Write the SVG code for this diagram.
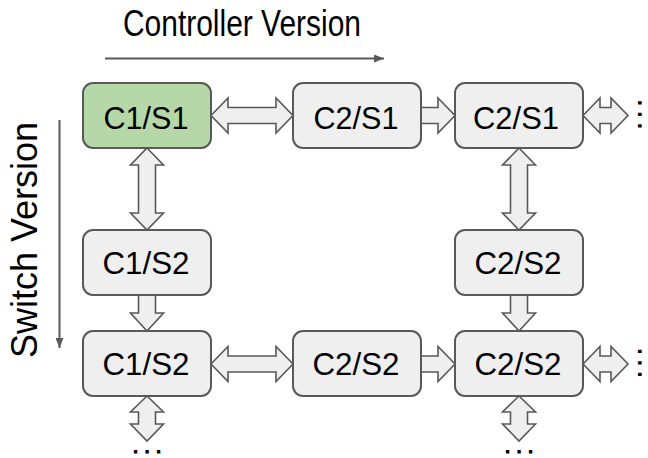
<svg xmlns="http://www.w3.org/2000/svg" width="648" height="458" viewBox="0 0 648 458">
  <style>
    .box { fill: #efefef; stroke: #595959; stroke-width: 2; }
    .box.start { fill: #b6d7a8; }
    .lbl { font-family: "Liberation Sans", Arial, sans-serif; font-size: 32px; fill: #000; text-anchor: middle; }
    .axis-lbl { font-family: "Liberation Sans", Arial, sans-serif; font-size: 36px; fill: #000; text-anchor: middle; }
    .dots { font-family: "Liberation Sans", Arial, sans-serif; font-size: 22px; fill: #000; stroke: #000; stroke-width: 1.2; letter-spacing: 5.4px; }
    .arr { fill: #efefef; stroke: #595959; stroke-width: 1.6; stroke-linejoin: miter; }
    .axis { stroke: #595959; stroke-width: 2; fill: none; }
  </style>
  <defs>
    <marker id="axis-head" viewBox="0 0 10 8" refX="10" refY="4" markerWidth="10" markerHeight="8" markerUnits="userSpaceOnUse" orient="auto">
      <path d="M0,0 L10,4 L0,8 Z" fill="#595959"/>
    </marker>
  </defs>
  <rect width="648" height="458" fill="#ffffff"/>

  <!-- axis labels -->
  <g id="axis-controller">
    <text class="axis-lbl" x="242" y="36" textLength="238" lengthAdjust="spacingAndGlyphs">Controller Version</text>
    <line class="axis" x1="105" y1="58.5" x2="384" y2="58.5" marker-end="url(#axis-head)"/>
  </g>
  <g id="axis-switch">
    <text class="axis-lbl" transform="translate(37,240) rotate(-90)" x="0" y="0" textLength="236" lengthAdjust="spacingAndGlyphs">Switch Version</text>
    <line class="axis" x1="59.5" y1="120" x2="59.5" y2="348" marker-end="url(#axis-head)"/>
  </g>

  <!-- connectors -->
  <g id="connectors">
    <!-- row 1 horizontal -->
    <polygon class="arr" points="211,115.5 228,98 228,107.5 276,107.5 276,98 293,115.5 276,133 276,123.5 228,123.5 228,133"/>
    <polygon class="arr" points="421,107.5 438,107.5 438,98 455,115.5 438,133 438,123.5 421,123.5"/>
    <polygon class="arr" points="583,115.5 600,98 600,107.5 611,107.5 611,98 628,115.5 611,133 611,123.5 600,123.5 600,133"/>
    <!-- row 3 horizontal -->
    <polygon class="arr" points="211,364 228,346.5 228,356 276,356 276,346.5 293,364 276,381.5 276,372 228,372 228,381.5"/>
    <polygon class="arr" points="421,356 438,356 438,346.5 455,364 438,381.5 438,372 421,372"/>
    <polygon class="arr" points="583,364 600,346.5 600,356 611,356 611,346.5 628,364 611,381.5 611,372 600,372 600,381.5"/>
    <!-- left column vertical -->
    <polygon class="arr" points="147,148 163.5,165 155.5,165 155.5,213 163.5,213 147,230 130.5,213 138.5,213 138.5,165 130.5,165"/>
    <polygon class="arr" points="138.5,295 155.5,295 155.5,313 163.5,313 147,331 130.5,313 138.5,313"/>
    <polygon class="arr" points="147,396 163.5,412 155.5,412 155.5,424 163.5,424 147,441 130.5,424 138.5,424 138.5,412 130.5,412"/>
    <!-- right column vertical -->
    <polygon class="arr" points="519,148 535.5,165 527.5,165 527.5,213 535.5,213 519,230 502.5,213 510.5,213 510.5,165 502.5,165"/>
    <polygon class="arr" points="510.5,295 527.5,295 527.5,313 535.5,313 519,331 502.5,313 510.5,313"/>
    <polygon class="arr" points="519,396 535.5,412 527.5,412 527.5,424 535.5,424 519,441 502.5,424 510.5,424 510.5,412 502.5,412"/>
  </g>

  <!-- continuation marks -->
  <g id="more-right-1"><text class="dots" transform="translate(641.1,129.1) rotate(-90)">...</text></g>
  <g id="more-right-3"><text class="dots" transform="translate(641.1,377.6) rotate(-90)">...</text></g>
  <g id="more-down-1"><text class="dots" x="132.4" y="453">...</text></g>
  <g id="more-down-3"><text class="dots" x="504.4" y="453">...</text></g>

  <!-- nodes -->
  <g id="c1s1">
    <rect class="box start" x="83" y="83" width="128" height="65" rx="10"/>
    <text class="lbl" x="146" y="129" textLength="85" lengthAdjust="spacingAndGlyphs">C1/S1</text>
  </g>
  <g id="c2s1-a">
    <rect class="box" x="293" y="83" width="128" height="65" rx="10"/>
    <text class="lbl" x="356" y="129" textLength="85" lengthAdjust="spacingAndGlyphs">C2/S1</text>
  </g>
  <g id="c2s1-b">
    <rect class="box" x="455" y="83" width="128" height="65" rx="10"/>
    <text class="lbl" x="516" y="129" textLength="86" lengthAdjust="spacingAndGlyphs">C2/S1</text>
  </g>
  <g id="c1s2-a">
    <rect class="box" x="83" y="230" width="128" height="65" rx="10"/>
    <text class="lbl" x="146" y="274" textLength="87" lengthAdjust="spacingAndGlyphs">C1/S2</text>
  </g>
  <g id="c2s2-a">
    <rect class="box" x="455" y="230" width="128" height="65" rx="10"/>
    <text class="lbl" x="518" y="274" textLength="87" lengthAdjust="spacingAndGlyphs">C2/S2</text>
  </g>
  <g id="c1s2-b">
    <rect class="box" x="83" y="331" width="128" height="65" rx="10"/>
    <text class="lbl" x="146" y="375" textLength="87" lengthAdjust="spacingAndGlyphs">C1/S2</text>
  </g>
  <g id="c2s2-b">
    <rect class="box" x="293" y="331" width="128" height="65" rx="10"/>
    <text class="lbl" x="356" y="375" textLength="87" lengthAdjust="spacingAndGlyphs">C2/S2</text>
  </g>
  <g id="c2s2-c">
    <rect class="box" x="455" y="331" width="128" height="65" rx="10"/>
    <text class="lbl" x="518" y="375" textLength="87" lengthAdjust="spacingAndGlyphs">C2/S2</text>
  </g>
</svg>
